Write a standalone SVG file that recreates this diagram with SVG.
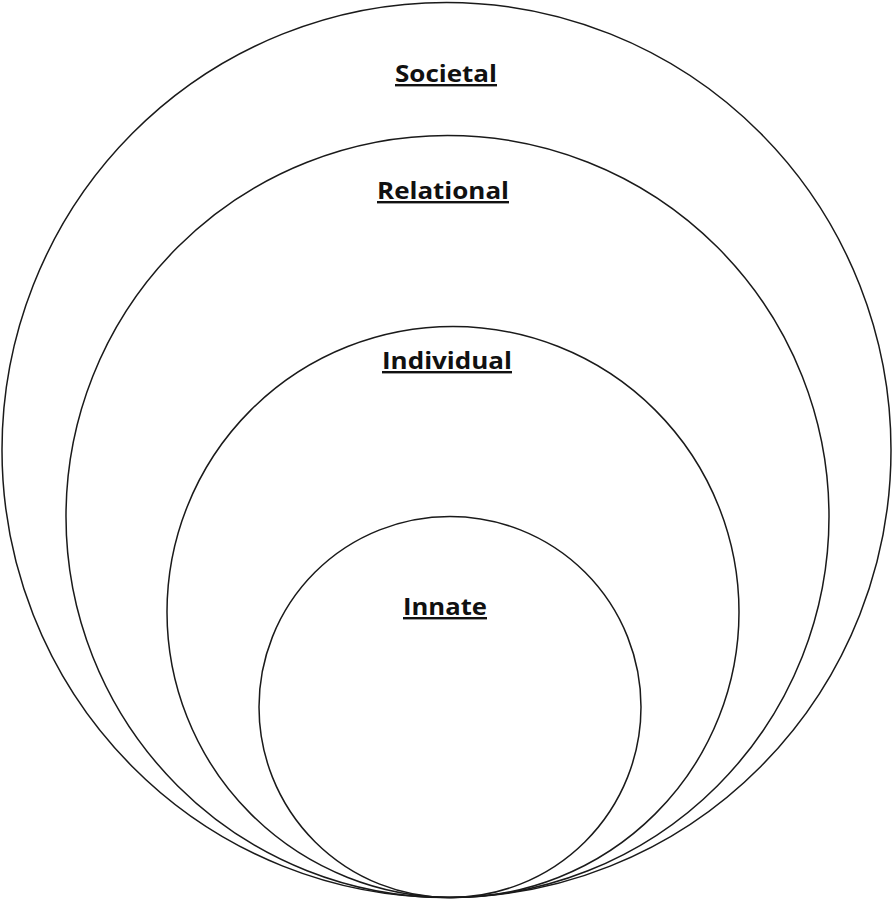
<svg xmlns="http://www.w3.org/2000/svg" width="893" height="901" viewBox="0 0 893 901">
<style>
.ring{fill:none;stroke:#1a1a1a;stroke-width:1.5}
.lbl{font-family:"Open Sans","Liberation Sans",sans-serif;font-weight:bold;font-size:24px;fill:#111;text-anchor:middle;text-decoration:underline}
</style>
<rect width="893" height="901" fill="#fff"/>
<g id="societal">
<ellipse class="ring" cx="446.5" cy="450" rx="444.5" ry="447.5"/>
<text class="lbl" x="446" y="82" textLength="102" lengthAdjust="spacingAndGlyphs">Societal</text>
</g>
<g id="relational">
<ellipse class="ring" cx="447.5" cy="516.5" rx="381.5" ry="381"/>
<text class="lbl" x="443" y="199" textLength="132" lengthAdjust="spacingAndGlyphs">Relational</text>
</g>
<g id="individual">
<ellipse class="ring" cx="453" cy="612" rx="286" ry="285.5"/>
<text class="lbl" x="447" y="369" textLength="130" lengthAdjust="spacingAndGlyphs">Individual</text>
</g>
<g id="innate">
<ellipse class="ring" cx="450" cy="707" rx="191" ry="190.5"/>
<text class="lbl" x="445" y="615" textLength="84" lengthAdjust="spacingAndGlyphs">Innate</text>
</g>
<g id="connectors"></g>
</svg>
